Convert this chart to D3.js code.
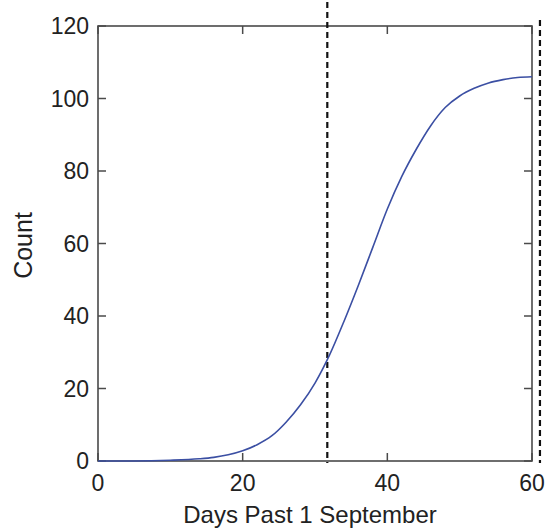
<!DOCTYPE html>
<html>
<head>
<meta charset="utf-8">
<script src="https://cdn.jsdelivr.net/npm/d3@7"></script>
<style>
  html, body { margin: 0; padding: 0; background: #fff; }
  svg { display: block; }
  text { font-family: "Liberation Sans", Arial, sans-serif; fill: #222; }
</style>
</head>
<body>
<svg id="chart" width="548" height="531"></svg>
<script>
// Cumulative count by day past 1 September
const days   = [0, 5, 10, 14, 16, 18, 20, 22, 24, 26, 28, 30, 32, 34, 36, 38, 40, 42, 44, 46, 48, 50, 52, 54, 56, 58, 60];
const counts = [0, 0, 0.2, 0.6, 1.0, 1.7, 2.8, 4.5, 6.9, 10.7, 15.5, 21.5, 29.2, 38.5, 48.5, 59, 69.5, 78.5, 86, 92.5, 97.5, 100.7, 102.8, 104.3, 105.2, 105.8, 106];
const xTicks = [0, 20, 40, 60];
const yTicks = [0, 20, 40, 60, 80, 100, 120];
const markerDays = [31.7, 61.1];

const svg = d3.select("#chart");
const plotLeft = 98, plotRight = 532, plotTop = 26, plotBottom = 461;

const x = d3.scaleLinear().domain([0, 60]).range([plotLeft, plotRight]);
const y = d3.scaleLinear().domain([0, 120]).range([plotBottom, plotTop]);

const axisColor = "#4a4a4a";
const tickLen = 8;

// frame
svg.append("rect")
  .attr("x", plotLeft).attr("y", plotTop)
  .attr("width", plotRight - plotLeft).attr("height", plotBottom - plotTop)
  .attr("fill", "none").attr("stroke", axisColor).attr("stroke-width", 1.6);

// inward ticks on all four sides
const g = svg.append("g").attr("stroke", axisColor).attr("stroke-width", 1.5);
xTicks.forEach(t => {
  g.append("line").attr("x1", x(t)).attr("x2", x(t)).attr("y1", plotBottom).attr("y2", plotBottom - tickLen);
  g.append("line").attr("x1", x(t)).attr("x2", x(t)).attr("y1", plotTop).attr("y2", plotTop + tickLen);
});
yTicks.forEach(t => {
  g.append("line").attr("x1", plotLeft).attr("x2", plotLeft + tickLen).attr("y1", y(t)).attr("y2", y(t));
  g.append("line").attr("x1", plotRight).attr("x2", plotRight - tickLen).attr("y1", y(t)).attr("y2", y(t));
});

// tick labels
svg.append("g").selectAll("text").data(xTicks).join("text")
  .attr("x", d => x(d)).attr("y", plotBottom + 30)
  .attr("text-anchor", "middle").attr("font-size", 23)
  .text(d => d);
svg.append("g").selectAll("text").data(yTicks).join("text")
  .attr("x", plotLeft - 9).attr("y", d => y(d) + 8)
  .attr("text-anchor", "end").attr("font-size", 23)
  .text(d => d);

// axis titles
svg.append("text")
  .attr("x", 310).attr("y", 523)
  .attr("text-anchor", "middle").attr("font-size", 24)
  .text("Days Past 1 September");
svg.append("text")
  .attr("transform", `translate(32,${(plotTop + plotBottom) / 2 + 2}) rotate(-90)`)
  .attr("text-anchor", "middle").attr("font-size", 25)
  .text("Count");

// dashed vertical markers
svg.append("g").selectAll("line").data(markerDays).join("line")
  .attr("x1", d => x(d)).attr("x2", d => x(d))
  .attr("y1", (d, i) => i === 0 ? 2 : 20).attr("y2", plotBottom + 2)
  .attr("stroke", "#111").attr("stroke-width", 2.2)
  .attr("stroke-dasharray", "6,4");

// cumulative curve
const line = d3.line()
  .x((d, i) => x(days[i]))
  .y(d => y(d))
  .curve(d3.curveMonotoneX);
svg.append("path")
  .datum(counts)
  .attr("d", line)
  .attr("fill", "none")
  .attr("stroke", "#3b4fa3")
  .attr("stroke-width", 1.6);
</script>
</body>
</html>
